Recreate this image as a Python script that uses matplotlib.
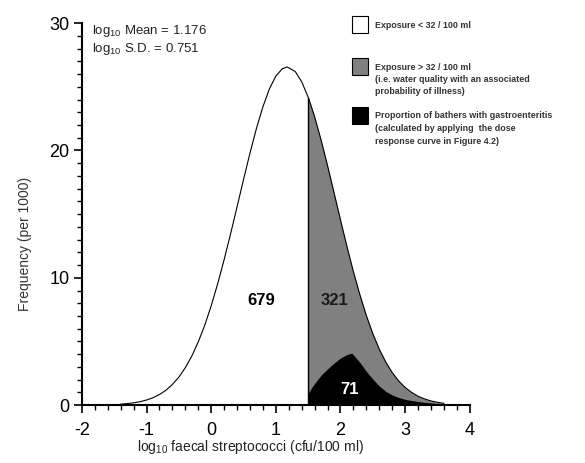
import matplotlib
matplotlib.use('Agg')
import matplotlib.pyplot as plt
from matplotlib.patches import Rectangle
from matplotlib.ticker import MultipleLocator

plt.rcParams['font.family'] = ['Liberation Sans', 'DejaVu Sans']
plt.rcParams['mathtext.default'] = 'regular'
plt.rcParams['axes.unicode_minus'] = False

# distribution of log10 faecal streptococci (frequency per 1000)
x_curve = [-1.4, -1.3, -1.2, -1.1, -1.0, -0.9, -0.8, -0.7, -0.6, -0.5, -0.4, -0.3,
           -0.2, -0.1, 0.0, 0.1, 0.2, 0.3, 0.4, 0.5, 0.6, 0.7, 0.8, 0.9, 1.0, 1.1,
           1.176, 1.3, 1.4, 1.505, 1.6, 1.7, 1.8, 1.9, 2.0, 2.1, 2.2, 2.3, 2.4, 2.5,
           2.6, 2.7, 2.8, 2.9, 3.0, 3.1, 3.2, 3.3, 3.4, 3.5, 3.6]
y_curve = [0.07, 0.12, 0.18, 0.27, 0.40, 0.58, 0.83, 1.17, 1.62, 2.20, 2.94, 3.85,
           4.96, 6.27, 7.80, 9.52, 11.42, 13.45, 15.57, 17.71, 19.79, 21.73, 23.43,
           24.83, 25.84, 26.42, 26.56, 26.20, 25.40, 24.13, 22.65, 20.82, 18.81,
           16.69, 14.55, 12.46, 10.48, 8.67, 7.04, 5.62, 4.40, 3.39, 2.56, 1.90,
           1.39, 1.00, 0.70, 0.49, 0.33, 0.22, 0.14]

# bathers with gastroenteritis (dose response applied)
x_ill = [1.505, 1.55, 1.6, 1.7, 1.8, 1.9, 2.0, 2.1, 2.17, 2.2, 2.3, 2.4, 2.5, 2.6,
         2.7, 2.8, 2.9, 3.0, 3.1, 3.2, 3.3, 3.4, 3.5, 3.6]
y_ill = [0.95, 1.35, 1.7, 2.35, 2.85, 3.3, 3.7, 3.97, 4.08, 3.95, 3.35, 2.65, 2.05,
         1.5, 1.08, 0.8, 0.6, 0.45, 0.36, 0.28, 0.22, 0.17, 0.12, 0.08]

cutoff = 1.505  # log10(32)
n_below, n_above, n_ill = '679', '321', '71'

fig = plt.figure(figsize=(5.85, 4.63), dpi=100)
ax = fig.add_axes([0.140, 0.125, 0.663, 0.825])

xa = [v for v in x_curve if v >= cutoff]
ya = [y for v, y in zip(x_curve, y_curve) if v >= cutoff]
ax.fill_between(xa, 0, ya, color='#808080', lw=0)
ax.fill_between(x_ill, 0, y_ill, color='black', lw=0)
ax.plot(x_curve, y_curve, color='black', lw=0.8)
ax.plot([cutoff, cutoff], [0, ya[0]], color='black', lw=1.0)

ax.text(0.78, 8.2, n_below, fontsize=12, fontweight='bold', ha='center', va='center')
ax.text(1.9, 8.2, n_above, fontsize=12, fontweight='bold', ha='center', va='center',
        color='#1a1a1a')
ax.text(2.14, 1.2, n_ill, fontsize=12, fontweight='bold', ha='center', va='center',
        color='white')

ax.text(-1.85, 29.4, 'log$_{10}$ Mean = 1.176', fontsize=9.5, va='center', color='#222222')
ax.text(-1.85, 28.0, 'log$_{10}$ S.D. = 0.751', fontsize=9.5, va='center', color='#222222')

ax.set_xlim(-2, 4)
ax.set_ylim(0, 30)
ax.xaxis.set_major_locator(MultipleLocator(1))
ax.xaxis.set_minor_locator(MultipleLocator(0.2))
ax.yaxis.set_major_locator(MultipleLocator(10))
ax.yaxis.set_minor_locator(MultipleLocator(1))
ax.tick_params(which='major', length=6, width=1.2, labelsize=13)
ax.tick_params(axis='x', which='major', pad=6)
ax.tick_params(axis='y', which='major', pad=3)
ax.tick_params(which='minor', length=3.5, width=1.0)
for s in ['top', 'right']:
    ax.spines[s].set_visible(False)
for s in ['left', 'bottom']:
    ax.spines[s].set_linewidth(1.5)

fig.text(137/585, 1-447/463, 'log$_{10}$ faecal streptococci (cfu/100 ml)', fontsize=10,
         ha='left', va='center', color='#222222')
fig.text(25/585, 1-244/463, 'Frequency (per 1000)', fontsize=10, rotation=90,
         ha='center', va='center', color='#333333')

# legend
boxes = [('white', 16, ['Exposure < 32 / 100 ml']),
         ('#808080', 58, ['Exposure > 32 / 100 ml', '(i.e. water quality with an associated',
                          'probability of illness)']),
         ('black', 107, ['Proportion of bathers with gastroenteritis',
                         '(calculated by applying  the dose',
                         'response curve in Figure 4.2)'])]
for col, top, lines in boxes:
    fig.patches.append(Rectangle((352/585, 1-(top+17)/463), 16/585, 17/463,
                                 transform=fig.transFigure, facecolor=col,
                                 edgecolor='black', lw=0.8))
    for i, t in enumerate(lines):
        fig.text(375/585, 1-(top+9+i*12.5)/463, t, fontsize=6.4, fontweight='bold',
                 ha='left', va='center', color='#333333')

plt.savefig('out.png', dpi=100)
